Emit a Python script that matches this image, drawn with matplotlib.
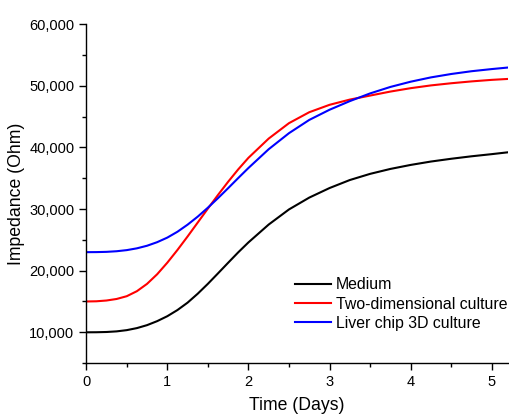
import matplotlib
matplotlib.use("Agg")
import matplotlib.pyplot as plt
from matplotlib.ticker import MultipleLocator, FuncFormatter

plt.rcParams['font.family'] = ['Liberation Sans', 'DejaVu Sans']

# values (days, ohm); finer spacing where the curves bend most
days = [0, 0.125, 0.25, 0.375, 0.5, 0.625, 0.75, 0.875, 1.0, 1.125, 1.25, 1.375,
        1.5, 1.625, 1.75, 1.875, 2.0, 2.25, 2.5, 2.75, 3.0, 3.25, 3.5, 3.75,
        4.0, 4.25, 4.5, 4.75, 5.0, 5.2]
medium = [10000, 10010, 10050, 10150, 10350, 10680, 11160, 11810, 12610, 13610, 14810, 16260,
          17860, 19560, 21280, 22980, 24580, 27480, 29930, 31850, 33400, 34700, 35700, 36500,
          37150, 37700, 38150, 38550, 38900, 39200]
two_d = [15000, 15031, 15156, 15406, 15856, 16668, 17855, 19417, 21292, 23355, 25542, 27805,
         30067, 32280, 34420, 36440, 38300, 41425, 43925, 45700, 46900, 47750, 48400, 49050,
         49600, 50050, 50400, 50700, 50950, 51100]
liver_3d = [23000, 23010, 23050, 23150, 23330, 23620, 24040, 24620, 25360, 26310, 27460, 28760,
            30210, 31760, 33380, 35030, 36650, 39700, 42300, 44450, 46100, 47500, 48750, 49800,
            50650, 51350, 51900, 52350, 52700, 52950]

labels = ["Medium", "Two-dimensional culture", "Liver chip 3D culture"]
colors = ["black", "red", "blue"]

fig = plt.figure(figsize=(5.1, 4.15), dpi=100)
ax = fig.add_axes([0.169, 0.125, 0.827, 0.817])

for ys, lab, c in zip([medium, two_d, liver_3d], labels, colors):
    ax.plot(days, ys, color=c, lw=1.5, label=lab)

ax.set_xlim(0, 5.2)
ax.set_ylim(5000, 60000)
ax.xaxis.set_major_locator(MultipleLocator(1))
ax.xaxis.set_minor_locator(MultipleLocator(0.5))
ax.yaxis.set_major_locator(MultipleLocator(10000))
ax.yaxis.set_minor_locator(MultipleLocator(5000))
ax.yaxis.set_major_formatter(FuncFormatter(lambda v, p: f"{int(v):,}"))

for s in ["top", "right"]:
    ax.spines[s].set_visible(False)
for s in ["left", "bottom"]:
    ax.spines[s].set_linewidth(1.0)
ax.tick_params(which="major", direction="out", length=5, width=1.0, labelsize=10.5)
ax.tick_params(which="minor", direction="out", length=3, width=1.0)

ax.set_xlabel("Time (Days)", fontsize=12.7, labelpad=6)
ax.set_ylabel("Impedance (Ohm)", fontsize=12.7)
ax.yaxis.set_label_coords(-0.145, 0.5)

ax.legend(loc="lower right", bbox_to_anchor=(1.014, 0.076), frameon=False, fontsize=11.4,
          handlelength=2.3, handletextpad=0.3, labelspacing=0.27, borderaxespad=0)

fig.savefig("out.png", dpi=100)
